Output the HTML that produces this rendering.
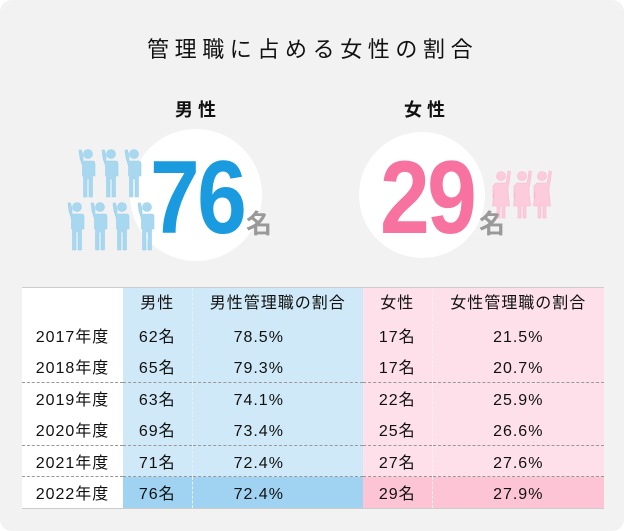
<!DOCTYPE html>
<html><head><meta charset="utf-8"><style>
*{margin:0;padding:0;box-sizing:border-box}
body{width:624px;height:531px;background:#fff;font-family:"Liberation Sans","Noto Sans CJK JP",sans-serif;position:relative;overflow:hidden}
.card{position:absolute;left:0;top:0;width:624px;height:531px;background:#f2f2f2;border-radius:12px}
.t{position:absolute;white-space:nowrap;color:#111}
table{position:absolute;left:22px;top:287px;width:582px;border-collapse:collapse;font-size:16px;letter-spacing:1px;color:#111;border-top:1.5px solid #ccc;border-bottom:1.5px solid #ccc}
td{height:31.5px;line-height:30px;text-align:center;padding:0;vertical-align:middle}
td span{display:inline-block;line-height:30px;height:30px;vertical-align:top;position:relative}
tr.r span{top:3px}
.c0{width:101px;background:#fff}
.c1{width:69px;background:#cfe9f8;border-right:1px dashed #e2f1fb}
.c2{width:171px;background:#cfe9f8}
.c3{width:69px;background:#fde0e9;border-right:1px dashed #fdeef3}
.c4{background:#fde0e9}
tr.r .c2{padding-right:38px}
tr.d td{border-top:1px dashed #999}
tr.h .c1,tr.h .c2{background:#9fd3f1}
tr.h .c3,tr.h .c4{background:#fcc4d5}
.big{font-size:104px;font-weight:bold;letter-spacing:-3px;transform:scaleX(0.86);transform-origin:left top}
</style></head><body>
<div class="card"></div>
<div class="t" style="left:147px;top:32px;font-size:22px;letter-spacing:5.6px">管理職に占める女性の割合</div>
<div class="t" style="left:175px;top:96px;font-size:18px;font-weight:bold;letter-spacing:5px">男性</div>
<div class="t" style="left:404px;top:96px;font-size:18px;font-weight:bold;letter-spacing:5px">女性</div>
<svg width="624" height="280" style="position:absolute;left:0;top:0">
<defs>
<g id="m" fill="#a8d8f0" stroke="#9ccfeb" stroke-width="0.6">
<circle cx="0" cy="0" r="4.5"/>
<path d="M-5,7 H5 Q7,7 7,10 V22 H4.5 V43 H1 V25 H-1 V43 H-4.5 V22 H-5.5 V12 L-8,4 L-9,-4 L-6.5,-4 L-5,2 Z"/>
</g>
<g id="f" fill="#fccbdc" stroke="#f7b9ce" stroke-width="0.6">
<circle cx="0" cy="0" r="4.5"/>
<path d="M-5,7 H5 L6,2 L7,-5 L9.5,-4.5 L8.5,4 L7,12 V16 L8.5,30 H4 V42 H1 V30 H-1 V42 H-4 V30 H-8.5 L-7,16 V22 H-8 V10 Z"/>
</g>
</defs>
<circle cx="196" cy="195" r="66" fill="#fff"/>
<circle cx="422" cy="195" r="63" fill="#fff"/>
<use href="#m" x="88" y="154"/><use href="#m" x="111" y="154"/><use href="#m" x="134" y="154"/>
<use href="#m" x="77" y="207"/><use href="#m" x="100" y="207"/><use href="#m" x="122" y="207"/><use href="#m" x="147" y="207"/>
<use href="#f" x="501" y="176"/><use href="#f" x="522" y="176"/><use href="#f" x="542" y="176"/>
</svg>
<div class="t big" style="left:150px;top:139px;color:#1a9be0">76</div>
<div class="t" style="left:246px;top:204px;font-size:26px;font-weight:bold;color:#999">名</div>
<div class="t big" style="left:380px;top:139px;color:#f7729e">29</div>
<div class="t" style="left:479px;top:204px;font-size:26px;font-weight:bold;color:#999">名</div>
<table>
<tr><td class="c0"></td><td class="c1"><span>男性</span></td><td class="c2"><span>男性管理職の割合</span></td><td class="c3"><span>女性</span></td><td class="c4"><span>女性管理職の割合</span></td></tr>
<tr class="r"><td class="c0"><span>2017年度</span></td><td class="c1"><span>62名</span></td><td class="c2"><span>78.5%</span></td><td class="c3"><span>17名</span></td><td class="c4"><span>21.5%</span></td></tr>
<tr class="r"><td class="c0"><span>2018年度</span></td><td class="c1"><span>65名</span></td><td class="c2"><span>79.3%</span></td><td class="c3"><span>17名</span></td><td class="c4"><span>20.7%</span></td></tr>
<tr class="r d"><td class="c0"><span>2019年度</span></td><td class="c1"><span>63名</span></td><td class="c2"><span>74.1%</span></td><td class="c3"><span>22名</span></td><td class="c4"><span>25.9%</span></td></tr>
<tr class="r"><td class="c0"><span>2020年度</span></td><td class="c1"><span>69名</span></td><td class="c2"><span>73.4%</span></td><td class="c3"><span>25名</span></td><td class="c4"><span>26.6%</span></td></tr>
<tr class="r d"><td class="c0"><span>2021年度</span></td><td class="c1"><span>71名</span></td><td class="c2"><span>72.4%</span></td><td class="c3"><span>27名</span></td><td class="c4"><span>27.6%</span></td></tr>
<tr class="r d h"><td class="c0"><span>2022年度</span></td><td class="c1"><span>76名</span></td><td class="c2"><span>72.4%</span></td><td class="c3"><span>29名</span></td><td class="c4"><span>27.9%</span></td></tr>
</table>
</body></html>
